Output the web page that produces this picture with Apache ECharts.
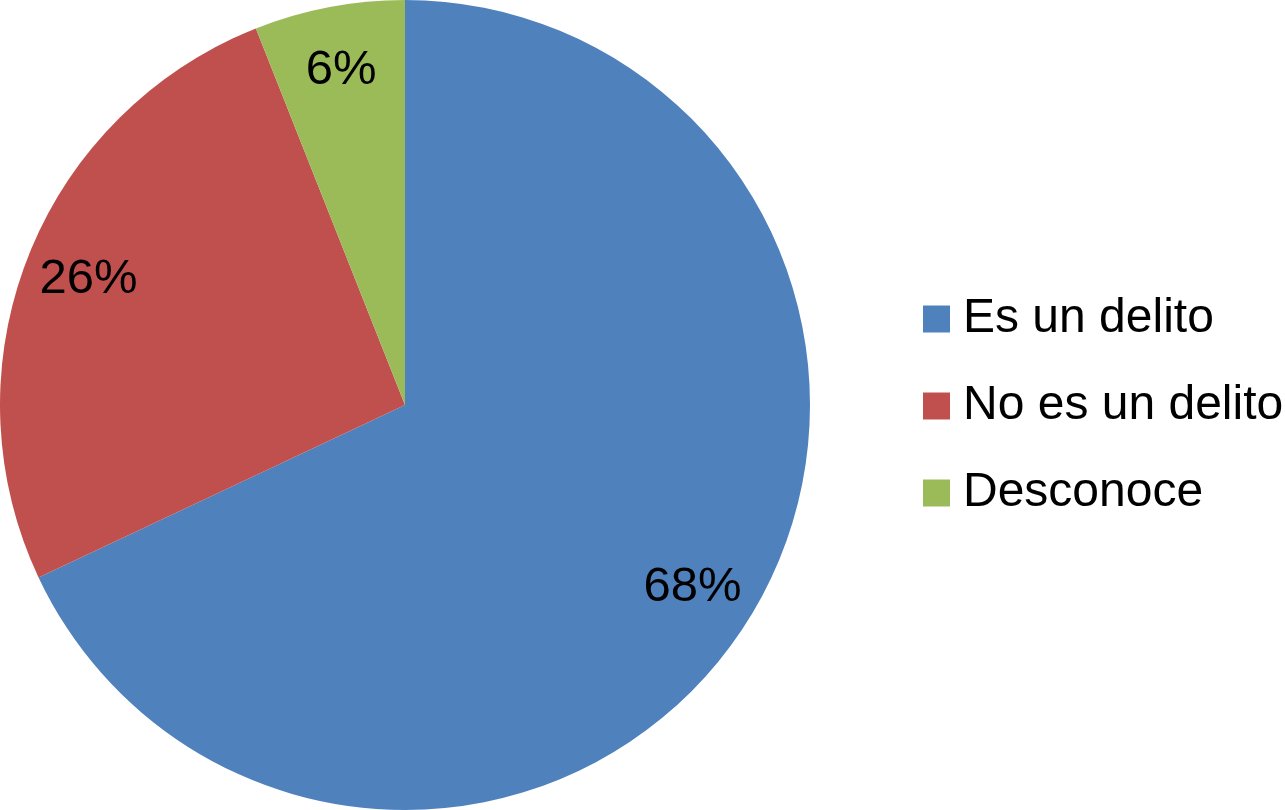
<!DOCTYPE html>
<html>
<head>
<meta charset="utf-8">
<title>Pie</title>
<script src="https://cdn.jsdelivr.net/npm/echarts@6/dist/echarts.min.js"></script>
<style>
  html, body { margin: 0; padding: 0; background: #fff; }
  #pieChart { width: 1285px; height: 810px; }
</style>
</head>
<body>
<div id="pieChart"></div>
<script>
  // datos
  const categories = ["Es un delito", "No es un delito", "Desconoce"];
  const values = [68, 26, 6];
  const colors = ["#4F81BD", "#C0504D", "#9BBB59"];

  const pieData = categories.map((name, i) => ({
    name: name,
    value: values[i],
    itemStyle: { color: colors[i] }
  }));

  // copia sin color, solo para las etiquetas
  const labelData = categories.map((name, i) => ({
    name: name,
    value: values[i],
    itemStyle: { color: "rgba(0,0,0,0)" }
  }));

  const myChart = echarts.init(document.getElementById("pieChart"));
  const option = {
    animation: false,
    textStyle: { fontFamily: "Liberation Sans, Arial, sans-serif" },
    legend: {
      orient: "vertical",
      left: 918,
      top: 290,
      itemWidth: 27,
      itemHeight: 27,
      itemGap: 39,
      icon: "rect",
      data: categories,
      textStyle: {
        color: "#000",
        fontSize: 48,
        lineHeight: 48,
        padding: [0, 0, 0, 8]
      }
    },
    series: [
      {
        // el pastel
        type: "pie",
        center: [405, 405],
        radius: [0, 405],
        startAngle: 90,
        clockwise: true,
        silent: true,
        itemStyle: { borderWidth: 0 },
        label: { show: false },
        labelLine: { show: false },
        data: pieData
      },
      {
        // solo para colocar las etiquetas cerca del borde
        type: "pie",
        center: [405, 405],
        radius: [270, 405],
        startAngle: 90,
        clockwise: true,
        silent: true,
        legendHoverLink: false,
        itemStyle: { borderWidth: 0 },
        label: {
          show: true,
          position: "inside",
          formatter: "{c}%",
          color: "#000",
          fontSize: 49,
          fontFamily: "Liberation Sans, Arial, sans-serif"
        },
        labelLine: { show: false },
        data: labelData
      }
    ]
  };
  myChart.clear();
  myChart.setOption(option);
</script>
</body>
</html>
